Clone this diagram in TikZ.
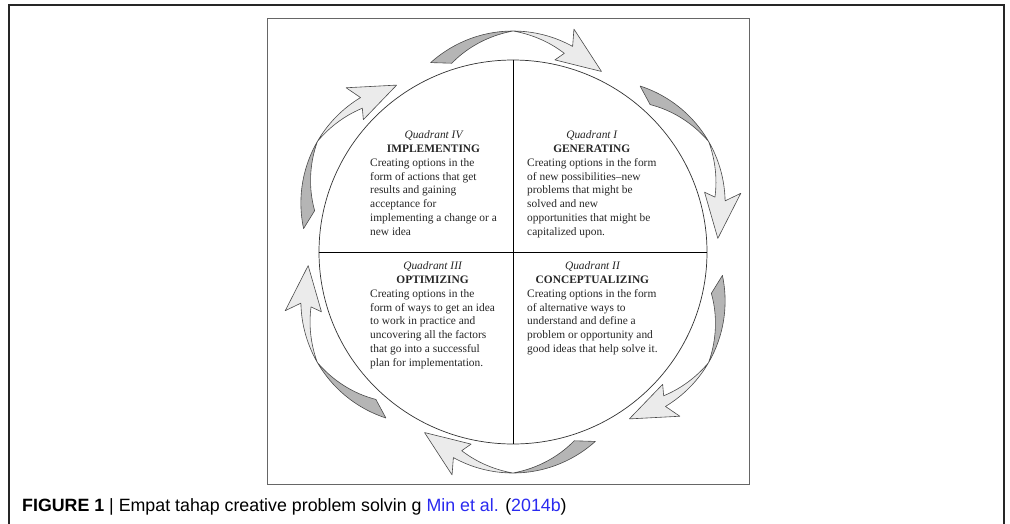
\documentclass[tikz,border=0pt]{standalone}
\usepackage{fontspec}
\setmainfont{Liberation Serif}
\newfontfamily\capfont{Liberation Sans}
\usetikzlibrary{shapes.geometric}
\definecolor{darkface}{HTML}{B5B5B5}
\definecolor{lightface}{HTML}{EBEBEB}
\definecolor{arrline}{HTML}{4A4A4A}
\definecolor{qtext}{HTML}{262626}
\definecolor{linkblue}{HTML}{2A2AF0}
\begin{document}
\begin{tikzpicture}[x=1pt,y=1pt,
  frame/.style={draw=black!85, line width=1.3pt},
  innerbox/.style={draw=black!60, line width=0.8pt},
  divider/.style={draw=black, line width=0.9pt},
  quad/.style={anchor=north west, inner sep=0pt, text=qtext, font=\fontsize{11.4}{13.8}\selectfont},
  cparrow/.pic={
    \fill[darkface] plot[domain=132:90,samples=20] (\x:123) -- plot[domain=90:124,samples=20] (\x:{123-13.5*(\x-90)/34}) -- cycle;
    \fill[lightface] plot[domain=90:61,samples=20] (\x:123) -- (64:139) -- (43:121) -- (66:103) -- (63:113) -- plot[domain=63:90,samples=20] (\x:{123-10*(90-\x)/27}) -- cycle;
    \draw[arrline, line width=0.6pt, line join=round] plot[domain=132:61,samples=40] (\x:123) -- (64:139) -- (43:121) -- (66:103) -- (63:113) -- plot[domain=63:90,samples=20] (\x:{123-10*(90-\x)/27}) -- plot[domain=90:124,samples=20] (\x:{123-13.5*(\x-90)/34}) -- cycle;
  }
]
\useasboundingbox (0,0) rectangle (1010,-523);
\fill[white] (0,0) rectangle (1010,-523);
\clip (0,0) rectangle (1010,-523);
\draw[frame] (9,-5) rectangle (1004,-560);
\draw[innerbox] (267,-18) rectangle (749,-484);

\begin{scope}[shift={(513,-252)}, xscale=1.05]
  \foreach \p in {90,30,-30,-90,-150,150} {
    \pic[rotate=\p-90] at (\p:98) {cparrow};
  }
\end{scope}

\node[ellipse, draw=black!80, line width=0.7pt, minimum width=388pt, minimum height=384pt, inner sep=0pt] (circ) at (513,-252) {};
\draw[divider] (circ.north) -- (circ.south);
\draw[divider] (circ.west) -- (circ.east);

\node[quad] (q4) at (370,-128.8) {\begin{tabular}{@{}l@{}}\multicolumn{1}{@{}c@{}}{\itshape Quadrant IV}\\ \multicolumn{1}{@{}c@{}}{\bfseries IMPLEMENTING}\\ Creating options in the\\ form of actions that get\\ results and gaining\\ acceptance for\\ implementing a change or a\\ new idea\end{tabular}};
\node[quad] (q1) at (527,-128.8) {\begin{tabular}{@{}l@{}}\multicolumn{1}{@{}c@{}}{\itshape Quadrant I}\\ \multicolumn{1}{@{}c@{}}{\bfseries GENERATING}\\ Creating options in the form\\ of new possibilities--new\\ problems that might be\\ solved and new\\ opportunities that might be\\ capitalized upon.\end{tabular}};
\node[quad] (q3) at (370,-259.8) {\begin{tabular}{@{}l@{}}\multicolumn{1}{@{}c@{}}{\itshape Quadrant III}\\ \multicolumn{1}{@{}c@{}}{\bfseries OPTIMIZING}\\ Creating options in the\\ form of ways to get an idea\\ to work in practice and\\ uncovering all the factors\\ that go into a successful\\ plan for implementation.\end{tabular}};
\node[quad] (q2) at (527,-259.8) {\begin{tabular}{@{}l@{}}\multicolumn{1}{@{}c@{}}{\itshape Quadrant II}\\ \multicolumn{1}{@{}c@{}}{\bfseries CONCEPTUALIZING}\\ Creating options in the form\\ of alternative ways to\\ understand and define a\\ problem or opportunity and\\ good ideas that help solve it.\end{tabular}};

\node[anchor=base west, inner sep=0pt, font=\capfont\fontsize{17.8}{20}\selectfont] (cap) at (22,-511) {\textbf{FIGURE 1} | Empat tahap creative problem solvin g \textcolor{linkblue}{Min et al.} (\textcolor{linkblue}{2014b})};
\end{tikzpicture}
\end{document}
